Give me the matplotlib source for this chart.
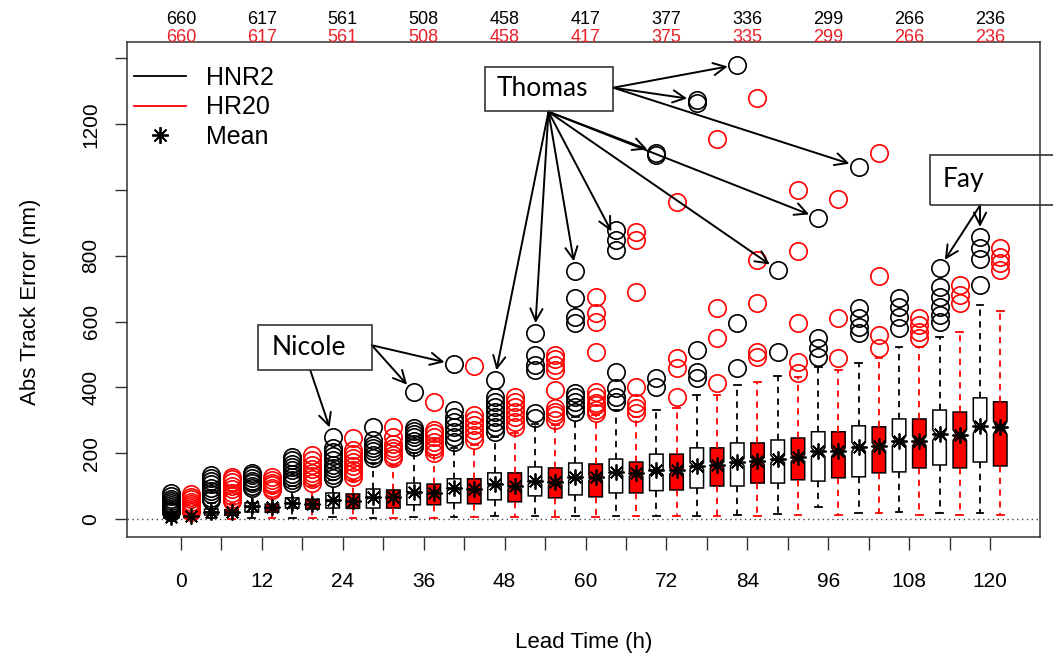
import numpy as np
import matplotlib
matplotlib.use("Agg")
import matplotlib.pyplot as plt
from matplotlib.patches import Rectangle
from matplotlib.lines import Line2D
import matplotlib.transforms as mtrans

plt.rcParams['font.family'] = ['Liberation Sans', 'DejaVu Sans']

# ---------------- data ----------------
lead_times = list(range(0, 121, 6))
label_leads = list(range(0, 121, 12))
hnr2_counts = [660, 617, 561, 508, 458, 417, 377, 336, 299, 266, 236]
hr20_counts = [660, 617, 561, 508, 458, 417, 375, 335, 299, 266, 236]

# HNR2 (black)
hnr2_q1 = [2, 12, 21, 33, 33, 33, 43, 49, 58, 70, 73, 79, 86, 94, 100, 109, 115, 128, 143, 164, 173]
hnr2_med = [5, 20, 36, 48, 55, 64, 79, 91, 103, 112, 125, 140, 143, 161, 173, 182, 203, 219, 237, 255, 280]
hnr2_q3 = [9, 30, 49, 64, 79, 91, 109, 122, 140, 158, 170, 182, 197, 216, 231, 240, 265, 283, 304, 331, 368]
hnr2_lo = [0, 2, 3, 4, 5, 3, 5, 6, 8, 9, 8, 9, 9, 9, 12, 15, 36, 18, 21, 18, 18]
hnr2_hi = [17, 48, 88, 100, 118, 170, 200, 215, 250, 290, 310, 331, 331, 377, 408, 435, 462, 474, 523, 554, 651]
hnr2_mean = [7, 22, 38, 49, 56, 66, 81, 95, 105, 115, 128, 142, 148, 162, 172, 183, 205, 220, 237, 257, 282]
hnr2_out = [
    [20, 25, 30, 36, 42, 48, 55, 62, 70, 78],
    [58, 65, 75, 85, 95, 105, 115, 125, 133],
    [94, 100, 108, 115, 125, 132, 140],
    [109, 118, 128, 138, 148, 158, 168, 178, 189],
    [125, 135, 145, 155, 165, 178, 190, 203, 216, 250],
    [186, 195, 205, 215, 225, 240, 280],
    [219, 228, 238, 248, 258, 268, 277, 386],
    [234, 250, 265, 280, 295, 310, 331, 470],
    [265, 280, 295, 310, 325, 340, 355, 371, 423],
    [307, 322, 453, 468, 499, 566],
    [325, 340, 355, 370, 383, 596, 614, 672, 754],
    [356, 371, 398, 447, 818, 848, 879],
    [401, 428, 1107, 1113],
    [428, 447, 514, 1265, 1274],
    [459, 596, 1381],
    [508, 757],
    [493, 520, 550, 915],
    [566, 584, 611, 642, 1071],
    [581, 614, 645, 672],
    [599, 620, 645, 675, 706, 763],
    [712, 791, 824, 858],
]

# HR20 (red)
hr20_q1 = [2, 11, 20, 30, 32, 33, 43, 46, 52, 64, 67, 79, 88, 100, 109, 119, 125, 140, 155, 155, 161]
hr20_med = [5, 18, 32, 45, 52, 67, 79, 88, 97, 109, 125, 137, 146, 164, 176, 185, 203, 219, 237, 255, 277]
hr20_q3 = [9, 28, 45, 60, 76, 88, 106, 122, 140, 155, 167, 173, 197, 216, 231, 246, 265, 280, 304, 325, 356]
hr20_lo = [0, 1, 2, 3, 4, 3, 4, 5, 6, 7, 6, 8, 8, 9, 10, 12, 12, 18, 12, 12, 12]
hr20_hi = [17, 45, 80, 100, 118, 165, 195, 225, 260, 285, 315, 310, 338, 377, 417, 432, 453, 490, 523, 569, 633]
hr20_mean = [8, 21, 35, 46, 55, 67, 80, 92, 100, 112, 127, 140, 148, 165, 175, 188, 205, 222, 238, 256, 278]
hr20_out = [
    [20, 26, 32, 38, 45, 52, 60, 68, 76],
    [55, 62, 70, 80, 90, 100, 112, 120, 128],
    [88, 95, 102, 110, 118, 128],
    [109, 120, 130, 140, 152, 165, 178, 195],
    [128, 140, 150, 160, 172, 185, 198, 210, 246],
    [186, 195, 205, 215, 228, 249, 280],
    [201, 212, 222, 235, 248, 260, 271, 356],
    [240, 255, 270, 285, 300, 316, 465],
    [280, 295, 310, 325, 340, 355, 371],
    [301, 315, 325, 337, 392, 453, 468, 485, 499],
    [322, 331, 345, 352, 371, 386, 508, 599, 626, 675],
    [322, 338, 352, 401, 690, 848, 873],
    [371, 459, 490, 964],
    [413, 550, 640, 1156],
    [493, 508, 657, 788, 1280],
    [444, 477, 596, 815, 1000],
    [490, 611, 973],
    [520, 560, 739, 1113],
    [550, 569, 590, 611],
    [657, 681, 712],
    [757, 778, 797, 824],
]


def make_stats(q1, med, q3, lo, hi, mean, out, counts):
    stats = []
    for i in range(len(q1)):
        n = counts[i // 2]
        half = 1.57 * (q3[i] - q1[i]) / np.sqrt(n)
        stats.append(dict(q1=q1[i], med=med[i], q3=q3[i], whislo=lo[i], whishi=hi[i],
                          mean=mean[i], fliers=out[i], cilo=med[i] - half, cihi=med[i] + half))
    return stats


fig = plt.figure(figsize=(10.53, 6.56), dpi=100)
ax = fig.add_axes([0.1206, 0.1814, 0.8671, 0.7546])

offset = 1.5
bw = 2.0
lt = np.array(lead_times, dtype=float)

series = [
    ("HNR2", make_stats(hnr2_q1, hnr2_med, hnr2_q3, hnr2_lo, hnr2_hi, hnr2_mean, hnr2_out, hnr2_counts),
     -offset, "white", "black"),
    ("HR20", make_stats(hr20_q1, hr20_med, hr20_q3, hr20_lo, hr20_hi, hr20_mean, hr20_out, hr20_counts),
     offset, "#ff0000", "#ff0000"),
]

ax.axhline(0, color="#444444", lw=1.0, ls=(0, (1, 2.5)), zorder=0)

for name, st, off, face, col in series:
    ax.bxp(st, positions=lt + off, widths=bw, shownotches=True, showmeans=True,
           patch_artist=True, manage_ticks=False,
           boxprops=dict(facecolor=face, edgecolor="black", lw=1.1),
           whiskerprops=dict(color=col, lw=1.3, ls=(0, (3.5, 3))),
           capprops=dict(color=col, lw=1.3),
           medianprops=dict(color="black", lw=2.2),
           flierprops=dict(marker="o", markerfacecolor="none", markeredgecolor=col,
                           markersize=12.5, markeredgewidth=1.2),
           meanprops=dict(marker=(8, 2, 0), markeredgecolor="black", markerfacecolor="black",
                          markersize=11.5, markeredgewidth=1.3, linestyle="none"))

ax.set_xlim(-8.0, 127.4)
ax.set_ylim(-55, 1450)

ax.set_xticks(lead_times)
ax.set_xticklabels([str(t) if t % 12 == 0 else "" for t in lead_times], fontsize=15)
yt = list(range(0, 1401, 200))
ax.set_yticks(yt)
ax.set_yticklabels([str(v) if v not in (1000, 1400) else "" for v in yt], fontsize=15,
                   rotation=90, va="center")
ax.tick_params(axis="both", length=9, width=1.0, color="#333333")
ax.tick_params(axis="x", pad=16)
ax.tick_params(axis="y", pad=10)
for s in ax.spines.values():
    s.set_linewidth(1.1)
    s.set_color("#333333")

ax.set_xlabel("Lead Time (h)", fontsize=16, labelpad=30)
ax.set_ylabel("Abs Track Error (nm)", fontsize=16)
ax.yaxis.set_label_coords(-0.094, 0.475)

# counts along the top
trans = mtrans.blended_transform_factory(ax.transData, fig.transFigure)
for t, a, b in zip(label_leads, hnr2_counts, hr20_counts):
    ax.text(t, 1 - 20 / 656, str(a), transform=trans, ha="center", va="center",
            fontsize=13, color="black")
    ax.text(t, 1 - 37 / 656, str(b), transform=trans, ha="center", va="center",
            fontsize=13, color="#e8202a")

# legend
handles = [Line2D([], [], color="black", lw=1.3),
           Line2D([], [], color="#ff0000", lw=1.3),
           Line2D([], [], color="black", marker=(8, 2, 0), ls="none", markersize=12, mew=1.3)]
ax.legend(handles, ["HNR2", "HR20", "Mean"], loc="upper left", bbox_to_anchor=(0.0026, 0.962),
          frameon=False, fontsize=18, handlelength=2.05, handletextpad=0.8,
          labelspacing=0.22, borderaxespad=0.0, borderpad=0.2)

# annotation boxes
ann_font = dict(family=["Lato", "DejaVu Sans"], fontsize=19, color="black")
box_kw = dict(fill=False, edgecolor="#333333", lw=1.2, clip_on=False, zorder=6)
arrow_kw = dict(arrowstyle="->", color="black", lw=1.4, mutation_scale=22, shrinkA=0, shrinkB=7)

# Thomas
ax.add_patch(Rectangle((45.1, 1241), 19.0, 134, **box_kw))
ax.text(53.6, 1308, "Thomas", ha="center", va="center", zorder=7, **ann_font)
thomas_right = [(84, hnr2_out[14][-1]), (78, hnr2_out[13][-1]), (102, hnr2_out[17][-1])]
thomas_bottom = [(72, hnr2_out[12][-1]), (96, hnr2_out[16][-1]), (90, hnr2_out[15][-1]),
                 (66, hnr2_out[11][-2]), (60, hnr2_out[10][-1]), (54, hnr2_out[9][-1]),
                 (48, hnr2_out[8][-1])]
for t, v in thomas_right:
    ax.annotate("", xy=(t - offset, v), xytext=(64.1, 1311), arrowprops=arrow_kw,
                annotation_clip=False)
for t, v in thomas_bottom:
    ax.annotate("", xy=(t - offset, v), xytext=(54.5, 1238), arrowprops=arrow_kw,
                annotation_clip=False)

# Nicole
ax.add_patch(Rectangle((11.4, 453), 16.9, 137, **box_kw))
ax.text(18.9, 521, "Nicole", ha="center", va="center", zorder=7, **ann_font)
for t, v in [(42, hnr2_out[7][-1]), (36, hnr2_out[6][-1])]:
    ax.annotate("", xy=(t - offset, v), xytext=(28.3, 528), arrowprops=arrow_kw,
                annotation_clip=False)
ax.annotate("", xy=(24 - offset, hnr2_out[4][-1]), xytext=(19.2, 451), arrowprops=arrow_kw,
            annotation_clip=False)

# Fay
ax.add_patch(Rectangle((111.1, 955), 25.0, 152, **box_kw))
ax.text(112.9, 1031, "Fay", ha="left", va="center", zorder=7, **ann_font)
for t, v in [(114, hnr2_out[19][-1]), (120, hnr2_out[20][-1])]:
    ax.annotate("", xy=(t - offset, v), xytext=(118.5, 953), arrowprops=arrow_kw,
                annotation_clip=False)

fig.savefig("out.png", dpi=100)
